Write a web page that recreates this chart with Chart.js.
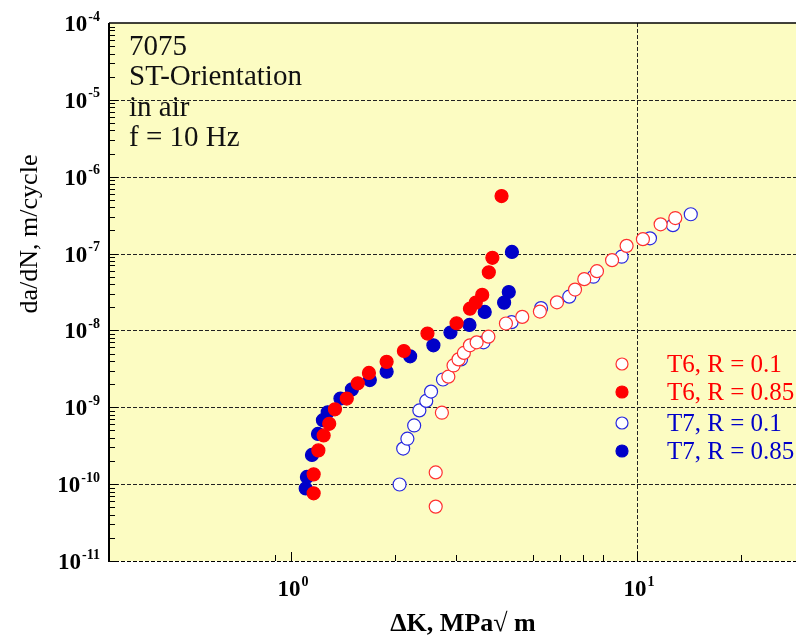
<!DOCTYPE html>
<html><head><meta charset="utf-8">
<script src="https://cdn.jsdelivr.net/npm/chart.js@4/dist/chart.umd.min.js"></script>
<style>html,body{margin:0;padding:0;background:#fff}canvas{display:block}</style>
</head><body>
<canvas id="c" width="796" height="644"></canvas>
<script>
// ---- data (ΔK in MPa√m, da/dN in m/cycle) ----
const t6r01_dK   = [2.62, 2.62, 2.73, 2.85, 2.95, 3.05, 3.16, 3.29, 3.44, 3.72, 4.18, 4.66, 5.24, 5.87, 6.62, 7.04, 7.66, 8.47, 9.33, 10.4, 11.7, 12.9];
const t6r01_rate = [5.1e-11, 1.42e-10, 8.5e-10, 2.5e-9, 3.5e-9, 4.2e-9, 5.1e-9, 6.4e-9, 7.0e-9, 8.3e-9, 1.23e-8, 1.50e-8, 1.76e-8, 2.32e-8, 3.4e-8, 4.65e-8, 5.9e-8, 8.2e-8, 1.26e-7, 1.54e-7, 2.4e-7, 2.9e-7];

const t6r085_dK   = [1.163, 1.163, 1.20, 1.243, 1.29, 1.34, 1.45, 1.56, 1.68, 1.89, 2.12, 2.48, 3.01, 3.29, 3.42, 3.57, 3.73, 3.82, 4.06];
const t6r085_rate = [7.6e-11, 1.34e-10, 2.75e-10, 4.3e-10, 6.1e-10, 9.4e-10, 1.30e-9, 2.05e-9, 2.8e-9, 3.9e-9, 5.4e-9, 9.1e-9, 1.24e-8, 1.92e-8, 2.3e-8, 2.9e-8, 5.7e-8, 8.8e-8, 5.6e-7];

const t7r01_dK   = [2.06, 2.11, 2.17, 2.27, 2.35, 2.46, 2.54, 2.75, 3.10, 3.60, 4.34, 5.28, 6.37, 7.48, 9.03, 10.9, 12.7, 14.3];
const t7r01_rate = [9.9e-11, 2.9e-10, 3.9e-10, 5.8e-10, 9.1e-10, 1.21e-9, 1.6e-9, 2.3e-9, 4.2e-9, 7.0e-9, 1.28e-8, 1.95e-8, 2.75e-8, 5.0e-8, 9.1e-8, 1.58e-7, 2.34e-7, 3.25e-7];

const t7r085_dK   = [1.103, 1.112, 1.15, 1.197, 1.237, 1.277, 1.39, 1.50, 1.69, 1.89, 2.21, 2.58, 2.89, 3.28, 3.63, 4.13, 4.26, 4.35];
const t7r085_rate = [8.8e-11, 1.24e-10, 2.4e-10, 4.5e-10, 6.8e-10, 8.6e-10, 1.30e-9, 1.71e-9, 2.26e-9, 2.9e-9, 4.6e-9, 6.4e-9, 9.4e-9, 1.18e-8, 1.74e-8, 2.3e-8, 3.16e-8, 1.05e-7];

const seriesLabels = ['T6, R = 0.1', 'T6, R = 0.85', 'T7, R = 0.1', 'T7, R = 0.85'];

// ---- ticks / text ----
const yTickValues = [1e-11, 1e-10, 1e-9, 1e-8, 1e-7, 1e-6, 1e-5, 1e-4];
const yTickExps   = ['-11', '-10', '-9', '-8', '-7', '-6', '-5', '-4'];
const xTickValues = [1, 10];
const xTickExps   = ['0', '1'];
const xGridValues = [10];
const xMinorTicks = [0.9, 2, 3, 5, 6, 7, 8, 20];
const yMinorMult  = [2, 3, 4, 5, 6, 7, 8, 9];
const noteLines   = ['7075', 'ST-Orientation', 'in air', 'f = 10 Hz'];
const xTitle = 'ΔK, MPa√ m';
const yTitle = 'da/dN, m/cycle';

const X_MIN = 0.298, X_MAX = 28.8, Y_MIN = 1e-11, Y_MAX = 1e-4;
const RED = '#ff0000', BLUE = '#0000c8';
const SERIF = '"Liberation Serif", "Times New Roman", serif';

const pts = (xs, ys) => xs.map((x, i) => ({x: x, y: ys[i]}));

const styles = [
  {bg: '#ffffff', bd: '#ff3030', text: RED},
  {bg: RED, bd: RED, text: RED},
  {bg: '#ffffff', bd: '#2828e0', text: BLUE},
  {bg: BLUE, bd: BLUE, text: BLUE}
];

const datasets = [
  {label: seriesLabels[0], data: pts(t6r01_dK, t6r01_rate)},
  {label: seriesLabels[1], data: pts(t6r085_dK, t6r085_rate)},
  {label: seriesLabels[2], data: pts(t7r01_dK, t7r01_rate)},
  {label: seriesLabels[3], data: pts(t7r085_dK, t7r085_rate)}
].map((d, i) => Object.assign(d, {
  backgroundColor: styles[i].bg,
  borderColor: styles[i].bd,
  pointRadius: 6.5,
  pointBorderWidth: 1.2,
  pointHoverRadius: 6.5,
  showLine: false
}));

function drawPow(ctx, exp, xRight, xCenter, yBase, align) {
  ctx.font = 'bold 23px ' + SERIF;
  const w10 = ctx.measureText('10').width;
  ctx.font = 'bold 14px ' + SERIF;
  const we = ctx.measureText(exp).width;
  const total = w10 + 1 + we;
  let x0 = align === 'right' ? xRight - total : xCenter - total / 2;
  ctx.textAlign = 'left';
  ctx.textBaseline = 'middle';
  ctx.font = 'bold 23px ' + SERIF;
  ctx.fillText('10', x0, yBase);
  ctx.font = 'bold 14px ' + SERIF;
  ctx.fillText(exp, x0 + w10 + 1, yBase - 8);
}

const framePlugin = {
  id: 'frame',
  beforeDatasetsDraw(chart) {
    const {ctx, chartArea: a, scales} = chart;
    ctx.save();
    ctx.fillStyle = '#fcfcc2';
    ctx.fillRect(a.left, a.top, a.right - a.left, a.bottom - a.top);
    ctx.strokeStyle = '#222';
    ctx.lineWidth = 1;
    ctx.setLineDash([4, 2]);
    yTickValues.forEach(v => {
      if (v === Y_MAX) return;
      const y = Math.round(scales.y.getPixelForValue(v)) + 0.5;
      ctx.beginPath(); ctx.moveTo(a.left, y); ctx.lineTo(a.right, y); ctx.stroke();
    });
    xGridValues.forEach(v => {
      const x = Math.round(scales.x.getPixelForValue(v)) + 0.5;
      ctx.beginPath(); ctx.moveTo(x, a.top); ctx.lineTo(x, a.bottom); ctx.stroke();
    });
    ctx.setLineDash([]);
    ctx.strokeStyle = '#000';
    // minor ticks on left axis
    ctx.lineWidth = 1;
    yTickValues.forEach(v => {
      if (v === Y_MAX) return;
      yMinorMult.forEach(m => {
        const y = Math.round(scales.y.getPixelForValue(v * m)) + 0.5;
        ctx.beginPath(); ctx.moveTo(a.left, y); ctx.lineTo(a.left + 6, y); ctx.stroke();
      });
      const y = Math.round(scales.y.getPixelForValue(v)) + 0.5;
      ctx.beginPath(); ctx.moveTo(a.left, y); ctx.lineTo(a.left + 9, y); ctx.stroke();
    });
    // ticks on bottom axis
    xMinorTicks.forEach(v => {
      const x = Math.round(scales.x.getPixelForValue(v)) + 0.5;
      ctx.beginPath(); ctx.moveTo(x, a.bottom); ctx.lineTo(x, a.bottom - 6); ctx.stroke();
    });
    xTickValues.forEach(v => {
      const x = Math.round(scales.x.getPixelForValue(v)) + 0.5;
      ctx.beginPath(); ctx.moveTo(x, a.bottom); ctx.lineTo(x, a.bottom - 9); ctx.stroke();
    });
    // frame: left & top solid, bottom dashed
    ctx.lineWidth = 2;
    ctx.beginPath(); ctx.moveTo(a.left, a.top); ctx.lineTo(a.left, a.bottom + 1); ctx.stroke();
    ctx.lineWidth = 1.5;
    ctx.beginPath(); ctx.moveTo(a.left, a.top); ctx.lineTo(a.right, a.top); ctx.stroke();
    ctx.lineWidth = 1;
    ctx.setLineDash([4, 2]);
    ctx.beginPath(); ctx.moveTo(a.left, a.bottom + 0.5); ctx.lineTo(a.right, a.bottom + 0.5); ctx.stroke();
    ctx.restore();
  },
  afterDraw(chart) {
    const {ctx, chartArea: a, scales} = chart;
    ctx.save();
    ctx.fillStyle = '#000';
    // tick labels
    yTickValues.forEach((v, i) => {
      const y = scales.y.getPixelForValue(v);
      drawPow(ctx, yTickExps[i], 100, 0, y + 2, 'right');
    });
    xTickValues.forEach((v, i) => {
      const x = scales.x.getPixelForValue(v);
      drawPow(ctx, xTickExps[i], 0, x + 2, a.bottom + 29, 'center');
    });
    // axis titles
    ctx.font = 'bold 26px ' + SERIF;
    ctx.textAlign = 'center';
    ctx.textBaseline = 'alphabetic';
    ctx.fillText(xTitle, 463, 631);
    ctx.save();
    ctx.translate(37, 234);
    ctx.rotate(-Math.PI / 2);
    ctx.font = '26px ' + SERIF;
    ctx.fillText(yTitle, 0, 0);
    ctx.restore();
    // note
    ctx.fillStyle = '#111';
    ctx.font = '29px ' + SERIF;
    ctx.textAlign = 'left';
    noteLines.forEach((t, i) => ctx.fillText(t, 129, 55 + i * 30.3));
    // legend
    const rows = [364, 392, 423, 451];
    ctx.font = '25px ' + SERIF;
    ctx.textBaseline = 'middle';
    chart.data.datasets.forEach((d, i) => {
      const y = rows[i];
      ctx.beginPath();
      ctx.arc(622, y, 6, 0, Math.PI * 2);
      ctx.fillStyle = styles[i].bg; ctx.fill();
      ctx.lineWidth = 1.2; ctx.strokeStyle = styles[i].bd; ctx.stroke();
      ctx.fillStyle = styles[i].text;
      ctx.fillText(d.label, 667, y + 1);
    });
    ctx.restore();
  }
};

new Chart(document.getElementById('c'), {
  type: 'scatter',
  data: {datasets: datasets},
  options: {
    responsive: false,
    devicePixelRatio: 1,
    animation: false,
    layout: {autoPadding: false, padding: {left: 109, top: 23, right: 0, bottom: 83}},
    plugins: {legend: {display: false}, tooltip: {enabled: false}},
    scales: {
      x: {type: 'logarithmic', min: X_MIN, max: X_MAX, display: false},
      y: {type: 'logarithmic', min: Y_MIN, max: Y_MAX, display: false}
    }
  },
  plugins: [framePlugin]
});
</script>
</body></html>
